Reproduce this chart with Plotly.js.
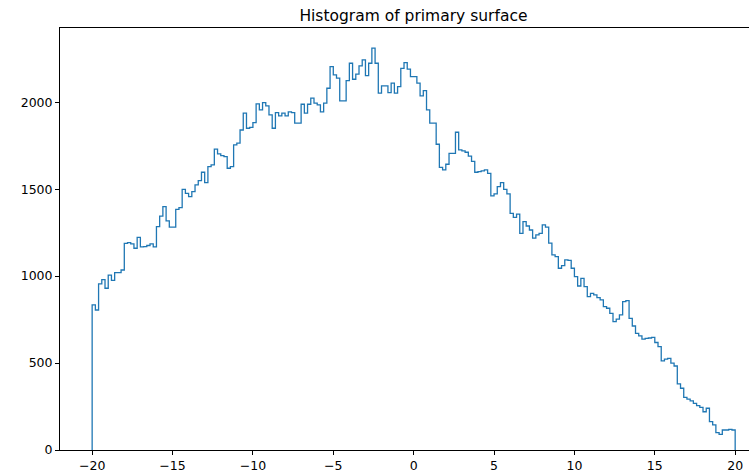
<!DOCTYPE html>
<html>
<head>
<meta charset="utf-8">
<script src="https://cdn.plot.ly/plotly-3.0.1.min.js"></script>
<style>
  html, body { margin: 0; padding: 0; background: #fff; }
  #chart { width: 749px; height: 473px; }
</style>
</head>
<body>
<div id="chart"></div>
<script>
// Histogram of the primary surface: 200 bins of width 0.2 from -20 to 20
const binStart = -20;
const binWidth = 0.2;
const counts = [
  834, 805, 955, 980, 930, 1005, 975, 1020, 1020, 1035,
  1188, 1193, 1185, 1160, 1223, 1168, 1170, 1176, 1185, 1168,
  1285, 1345, 1400, 1317, 1281, 1281, 1384, 1394, 1499, 1476,
  1457, 1486, 1524, 1549, 1597, 1538, 1630, 1639, 1730, 1703,
  1693, 1687, 1620, 1630, 1754, 1764, 1840, 1937, 1850, 1855,
  1883, 1990, 1956, 1998, 1979, 1927, 1850, 1940, 1921, 1937,
  1921, 1944, 1940, 1879, 1879, 1988, 1937, 1988, 2023, 1994,
  1985, 1944, 1994, 2080, 2204, 2157, 2138, 2008, 2008, 2124,
  2224, 2132, 2161, 2209, 2243, 2153, 2224, 2311, 2224, 2052,
  2094, 2094, 2055, 2109, 2052, 2090, 2194, 2228, 2190, 2147,
  2147, 2109, 2036, 2067, 1956, 1879, 1879, 1758, 1625, 1611,
  1643, 1706, 1706, 1827, 1726, 1720, 1712, 1690, 1660, 1597,
  1601, 1605, 1611, 1591, 1461, 1473, 1515, 1538, 1499, 1473,
  1361, 1338, 1356, 1246, 1313, 1288, 1265, 1218, 1237, 1246,
  1294, 1281, 1189, 1122, 1112, 1045, 1060, 1093, 1090, 1045,
  997, 943, 987, 940, 882, 901, 892, 876, 863, 824,
  815, 786, 738, 752, 777, 853, 859, 757, 713, 671,
  656, 638, 642, 644, 648, 618, 594, 512, 522, 527,
  500, 483, 380, 355, 303, 293, 282, 268, 255, 245,
  220, 240, 163, 144, 100, 90, 115, 115, 119, 115
];
const xTicks = [-20, -15, -10, -5, 0, 5, 10, 15, 20];
const yTicks = [0, 500, 1000, 1500, 2000];

// Step outline (histtype "step"): up from zero at the first edge,
// across each bin, back down to zero at the last edge.
const stepX = [binStart];
const stepY = [0];
counts.forEach((c, i) => {
  stepX.push(binStart + i * binWidth);
  stepY.push(c);
});
const lastEdge = binStart + counts.length * binWidth;
stepX.push(lastEdge, lastEdge);
stepY.push(counts[counts.length - 1], 0);

const fmt = v => (v < 0 ? '\u2212' + Math.abs(v) : String(v));
const yMax = Math.max(...counts) * 1.05;

const trace = {
  type: 'scatter',
  mode: 'lines',
  x: stepX,
  y: stepY,
  line: { shape: 'hv', color: '#1f77b4', width: 1.3 },
  hoverinfo: 'skip'
};

const font = { family: 'DejaVu Sans, sans-serif', size: 12.5, color: '#000' };

const layout = {
  width: 749,
  height: 473,
  margin: { l: 60, r: 0, t: 28, b: 23, pad: 0 },
  paper_bgcolor: '#fff',
  plot_bgcolor: '#fff',
  showlegend: false,
  font: font,
  title: {
    text: 'Histogram of primary surface',
    font: { family: 'DejaVu Sans, sans-serif', size: 15.5, color: '#000' },
    xref: 'container', x: 0.552, xanchor: 'center',
    yref: 'container', y: 0.968, yanchor: 'middle'
  },
  xaxis: {
    range: [-22, 20.86],
    tickvals: xTicks,
    ticktext: xTicks.map(fmt),
    ticks: 'outside', ticklen: 3.5, tickwidth: 1, tickcolor: '#000',
    showline: true, linecolor: '#000', linewidth: 1, mirror: true,
    showgrid: false, zeroline: false,
    tickfont: font
  },
  yaxis: {
    range: [0, yMax],
    tickvals: yTicks,
    ticktext: yTicks.map(fmt),
    ticks: 'outside', ticklen: 4, tickwidth: 1, tickcolor: '#000',
    showline: true, linecolor: '#000', linewidth: 1,
    showgrid: false, zeroline: false,
    tickfont: font
  }
};

Plotly.newPlot('chart', [trace], layout, { displayModeBar: false, staticPlot: true });
</script>
</body>
</html>
